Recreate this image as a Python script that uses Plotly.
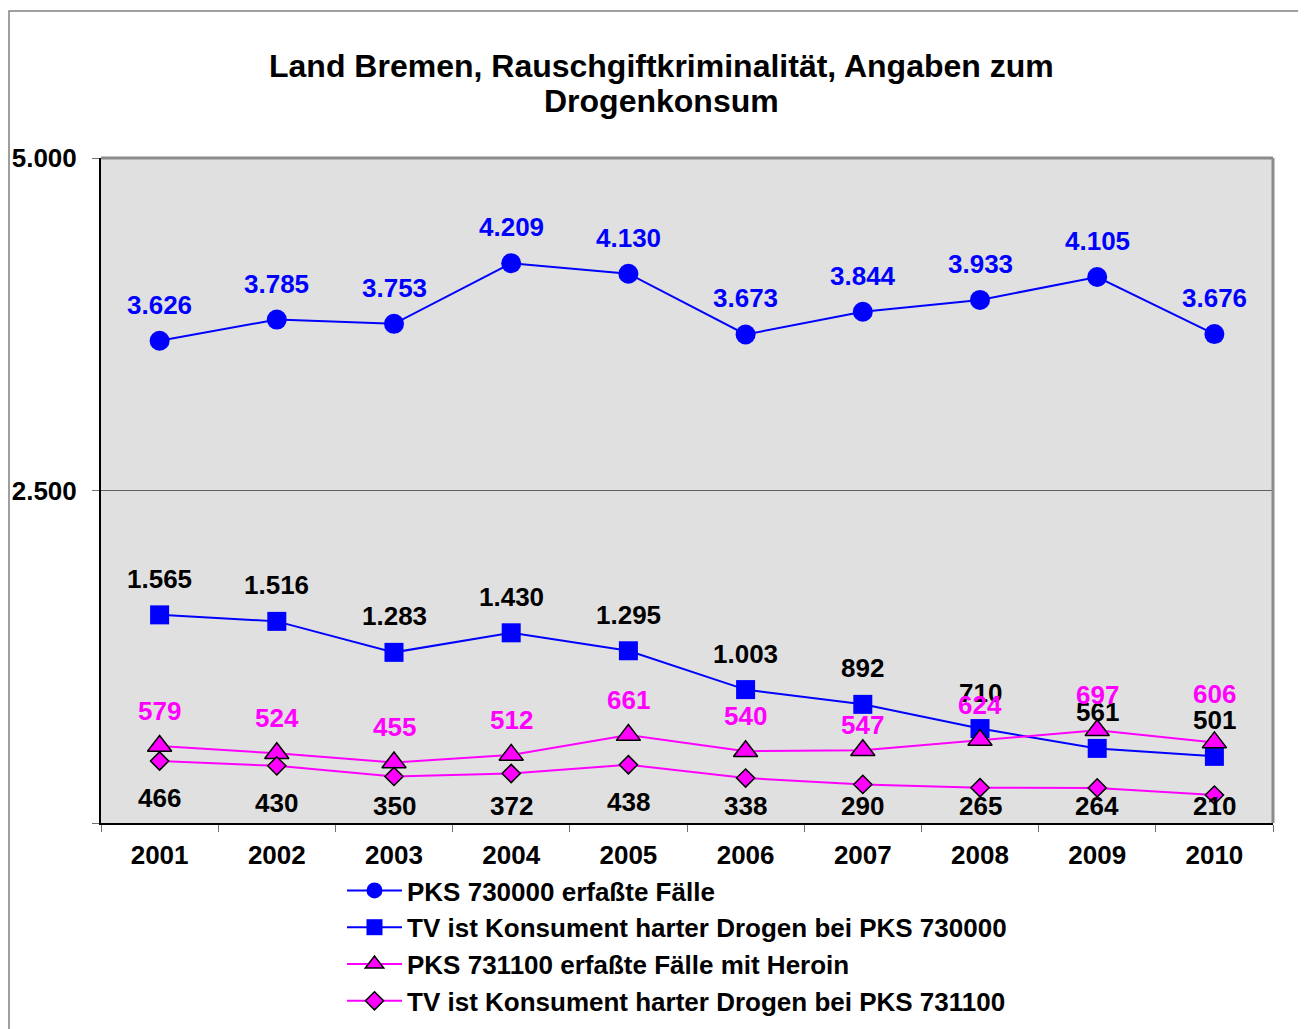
import plotly.graph_objects as go

years = ["2001", "2002", "2003", "2004", "2005", "2006", "2007", "2008", "2009", "2010"]
pks730000 = [3626, 3785, 3753, 4209, 4130, 3673, 3844, 3933, 4105, 3676]
tv730000 = [1565, 1516, 1283, 1430, 1295, 1003, 892, 710, 561, 501]
pks731100 = [579, 524, 455, 512, 661, 540, 547, 624, 697, 606]
tv731100 = [466, 430, 350, 372, 438, 338, 290, 265, 264, 210]

names = [
    "PKS 730000 erfaßte Fälle",
    "TV ist Konsument harter Drogen bei PKS 730000",
    "PKS 731100 erfaßte Fälle mit Heroin",
    "TV ist Konsument harter Drogen bei PKS 731100",
]
title_lines = ["Land Bremen, Rauschgiftkriminalität, Angaben zum", "Drogenkonsum"]
ytickvals = [0, 2500, 5000]
yticktext = ["", "2.500", "5.000"]

FONT = "Liberation Sans, Arial, sans-serif"
BLUE = "#0000ff"
MAG = "#ff00ff"
OFF = 8  # page body margin
W, H = 1306 - OFF, 1029 - OFF
ML, MR, MT, MB = 101 - OFF, 33, 158 - OFF, 206
PW, PH = W - ML - MR, H - MT - MB
YMAX = 5000


def fmt(v):
    return f"{v:,}".replace(",", ".")


def px_x(xr):
    return (xr - OFF - ML) / PW


def px_y(yr):
    return 1 - (yr - OFF - MT) / PH


fig = go.Figure()
series = [
    (pks730000, names[0], BLUE, dict(symbol="circle", size=20, color=BLUE, line=dict(width=0))),
    (tv730000, names[1], BLUE, dict(symbol="square", size=19, color=BLUE, line=dict(width=0))),
    (pks731100, names[2], MAG, dict(symbol="triangle-up", size=21, color=MAG, line=dict(width=1.5, color="black"))),
    (tv731100, names[3], MAG, dict(symbol="diamond", size=14, color=MAG, line=dict(width=1.5, color="black"))),
]
for vals, nm, col, mk in series:
    fig.add_trace(go.Scatter(x=years, y=vals, name=nm, mode="lines+markers",
                             line=dict(color=col, width=2), marker=mk, cliponaxis=False))

label_sets = [
    (pks730000, BLUE, 36),
    (tv730000, "black", 36),
    (pks731100, MAG, 35),
]
nudge = {(2, 6): -10, (2, 9): 13}
ann = []
for si, (vals, col, off) in enumerate(label_sets):
    for i, v in enumerate(vals):
        ann.append(dict(xref="x", yref="y", x=i, y=v, text=fmt(v), showarrow=False,
                        yshift=off + nudge.get((si, i), 0),
                        font=dict(family=FONT, size=26, color=col, weight="bold")))
for i, v in enumerate(tv731100):
    py = (1 - v / YMAX) * PH
    lab = min(py + 37, 648)
    ann.append(dict(xref="x", yref="y", x=i, y=v, text=fmt(v), showarrow=False, yshift=-(lab - py),
                    font=dict(family=FONT, size=26, color="black", weight="bold")))

for line, yc in zip(title_lines, [66, 101]):
    ann.append(dict(xref="paper", yref="paper", x=px_x(661), y=px_y(yc),
                    text=line, showarrow=False, xanchor="center", yanchor="middle",
                    font=dict(family=FONT, size=32, color="black", weight="bold")))

shapes = [
    dict(type="line", xref="paper", yref="paper", x0=0, x1=1, y0=1, y1=1,
         line=dict(color="#8c8c8c", width=3), layer="above"),
    dict(type="line", xref="paper", yref="paper", x0=1, x1=1, y0=0, y1=1,
         line=dict(color="#8c8c8c", width=3), layer="above"),
    dict(type="rect", xref="paper", yref="paper",
         x0=px_x(OFF + 1), x1=px_x(1303), y0=px_y(1060), y1=px_y(11),
         line=dict(color="#808080", width=1.5), layer="below"),
]

fig.update_layout(
    width=W, height=H, autosize=False,
    margin=dict(l=ML, r=MR, t=MT, b=MB, pad=0, autoexpand=False),
    paper_bgcolor="white", plot_bgcolor="#e0e0e0",
    font=dict(family=FONT, size=26, color="black"),
    showlegend=True,
    legend=dict(xref="container", yref="container",
                x=(342 - OFF) / W, y=1 - (867 - OFF) / H, xanchor="left", yanchor="top",
                bgcolor="rgba(0,0,0,0)", tracegroupgap=0, itemwidth=55,
                font=dict(family=FONT, size=26, color="black", weight="bold")),
    annotations=ann, shapes=shapes,
)
fig.update_xaxes(type="category", range=[-0.5, 9.5], showline=True, linecolor="black", linewidth=2,
                 ticks="outside", tickson="boundaries", ticklen=7, tickcolor="#707070", tickwidth=1,
                 showgrid=False, ticklabelstandoff=8, automargin=False,
                 tickfont=dict(family=FONT, size=26, color="black", weight="bold"))
fig.update_yaxes(range=[0, YMAX], tickvals=ytickvals, ticktext=yticktext, showline=True,
                 linecolor="black", linewidth=2, ticks="outside", ticklen=7, tickcolor="#707070",
                 showgrid=True, gridcolor="#606060", gridwidth=1, zeroline=False,
                 ticklabelstandoff=10, automargin=False,
                 tickfont=dict(family=FONT, size=26, color="black", weight="bold"))

fig.write_html("out.html")
